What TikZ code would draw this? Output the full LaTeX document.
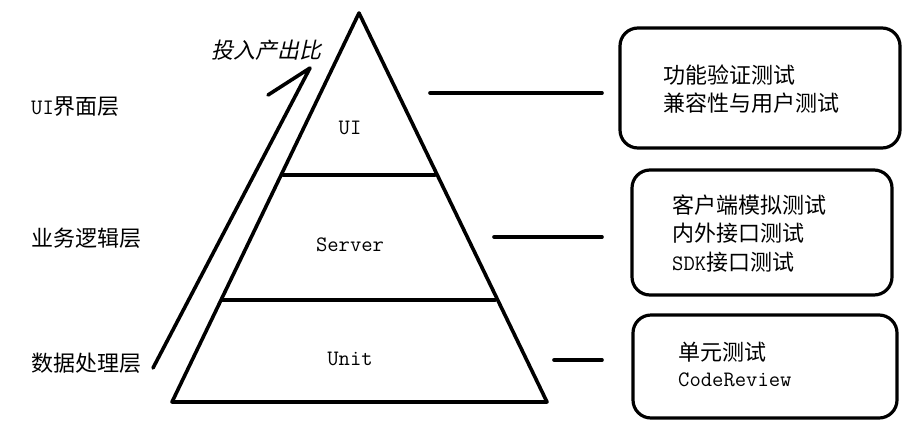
\documentclass[tikz,border=0pt]{standalone}
\usepackage{fontspec}
\newfontfamily\cjk{Noto Sans CJK SC}
\newfontfamily\cjkit{Noto Sans CJK SC}[FakeSlant=0.22]
\newcommand\lat{\ttfamily}
\begin{document}
\begin{tikzpicture}[x=1pt,y=-1pt,
  thick line/.style={line width=3.6pt,line cap=round,line join=round},
  tbox/.style={draw,line width=3.2pt,rounded corners=18pt,inner sep=0pt},
  cj/.style={font=\fontsize{22}{24}\cjk,anchor=west,inner sep=0pt},
  lt/.style={font=\fontsize{22}{24}\lat,anchor=west,inner sep=0pt},
  lc/.style={font=\fontsize{22}{24}\lat,inner sep=0pt}]
\useasboundingbox (0,0) rectangle (920,421);
% pyramid
\coordinate (apex) at (359,13);
\coordinate (bl) at (172,402);
\coordinate (br) at (547,402);
\coordinate (s1l) at (283,175);
\coordinate (s1r) at (435,175);
\coordinate (s2l) at (222,300);
\coordinate (s2r) at (495,300);
\draw[thick line] (apex) -- (br) -- (bl) -- cycle;
\draw[thick line] (s1l) -- (s1r);
\draw[thick line] (s2l) -- (s2r);
\node[lc] (ui) at (350,128) {UI};
\node[lc] (server) at (350,245) {Server};
\node[lc] (unit) at (350,359) {Unit};
% arrow
\coordinate (a0) at (153,368);
\coordinate (a1) at (310,68);
\coordinate (a2) at (268,95);
\draw[thick line] (a0) -- (a1) -- (a2);
\node[font=\fontsize{22}{24}\cjkit,inner sep=0pt] (ratio) at (266,50) {投入产出比};
% left labels
\node[anchor=west,inner sep=0pt] (lab1) at (31,107) {\fontsize{22}{24}\lat UI\fontsize{22}{24}\cjk 界面层};
\node[cj] (lab2) at (31,238) {业务逻辑层};
\node[cj] (lab3) at (31,363) {数据处理层};
% boxes
\node[tbox,minimum width=280pt,minimum height=120pt] (b1) at (760,88) {};
\node[tbox,minimum width=260pt,minimum height=125pt] (b2) at (762,232.5) {};
\node[tbox,minimum width=264pt,minimum height=103pt] (b3) at (765,366.5) {};
\node[cj] (t11) at (663,75) {功能验证测试};
\node[cj] (t12) at (663,103) {兼容性与用户测试};
\node[cj] (t21) at (672,205) {客户端模拟测试};
\node[cj] (t22) at (672,233) {内外接口测试};
\node[anchor=west,inner sep=0pt] (t23) at (672,262) {\fontsize{22}{24}\lat SDK\fontsize{22}{24}\cjk 接口测试};
\node[cj] (t31) at (678,352) {单元测试};
\node[lt] (t32) at (678,380) {CodeReview};
% connectors
\coordinate (c1a) at (430,93);
\coordinate (c1b) at (602,93);
\coordinate (c2a) at (494,237);
\coordinate (c2b) at (602,237);
\coordinate (c3a) at (554,360);
\coordinate (c3b) at (602,360);
\draw[thick line] (c1a) -- (c1b);
\draw[thick line] (c2a) -- (c2b);
\draw[thick line] (c3a) -- (c3b);
\end{tikzpicture}
\end{document}
